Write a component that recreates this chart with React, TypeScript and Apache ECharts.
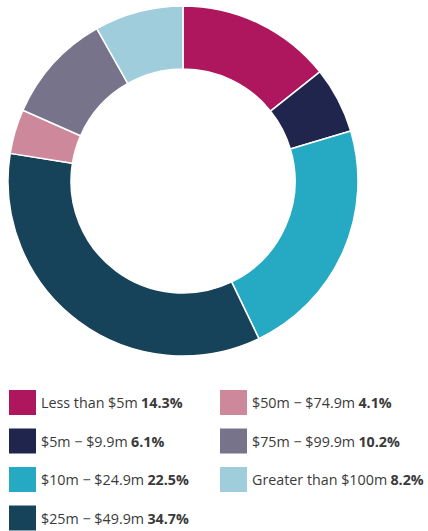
import React, { useEffect, useRef } from "react";
import * as echarts from "echarts";

const categories = [
  "Less than $5m",
  "$5m − $9.9m",
  "$10m − $24.9m",
  "$25m − $49.9m",
  "$50m − $74.9m",
  "$75m − $99.9m",
  "Greater than $100m",
];
const values = [14.3, 6.1, 22.5, 34.7, 4.1, 10.2, 8.2];
const colors = ["#AE175E", "#1F254D", "#26A9C2", "#17435A", "#CE889C", "#76738B", "#A0CDDB"];

const leftLegend = categories.slice(0, 4);
const rightLegend = categories.slice(4);

export default function App() {
  const ref = useRef<HTMLDivElement>(null);
  useEffect(() => {
    document.body.style.margin = "0";
    const chart = echarts.init(ref.current!, null, { renderer: "svg" });
    const fmt = (name: string) => {
      const i = categories.indexOf(name);
      return `{a|${name}} {b|${values[i].toFixed(1)}%}`;
    };
    const rich = {
      a: { fontFamily: "Open Sans", fontSize: 14.3, color: "#3a3a3a" },
      b: { fontFamily: "Open Sans", fontSize: 14.3, fontWeight: "bold", color: "#3a3a3a" },
    };
    const legendBase = {
      orient: "vertical",
      icon: "rect",
      itemWidth: 27,
      itemHeight: 25,
      itemGap: 13.5,
      padding: 0,
      itemStyle: { borderWidth: 0 },
      selectedMode: false,
      formatter: fmt,
      textStyle: { rich },
    };
    chart.setOption({
      animation: false,
      color: colors,
      legend: [
        { ...legendBase, left: 9, top: 390, data: leftLegend },
        { ...legendBase, left: 220, top: 390, data: rightLegend },
      ],
      series: [
        {
          type: "pie",
          center: [183, 181],
          radius: [112, 175],
          startAngle: 90,
          clockwise: true,
          label: { show: false },
          labelLine: { show: false },
          itemStyle: { borderColor: "#ffffff", borderWidth: 1.5 },
          data: categories.map((c, i) => ({ name: c, value: values[i] })),
        },
      ],
    });
    return () => chart.dispose();
  }, []);
  return <div ref={ref} style={{ width: 428, height: 531 }} />;
}
